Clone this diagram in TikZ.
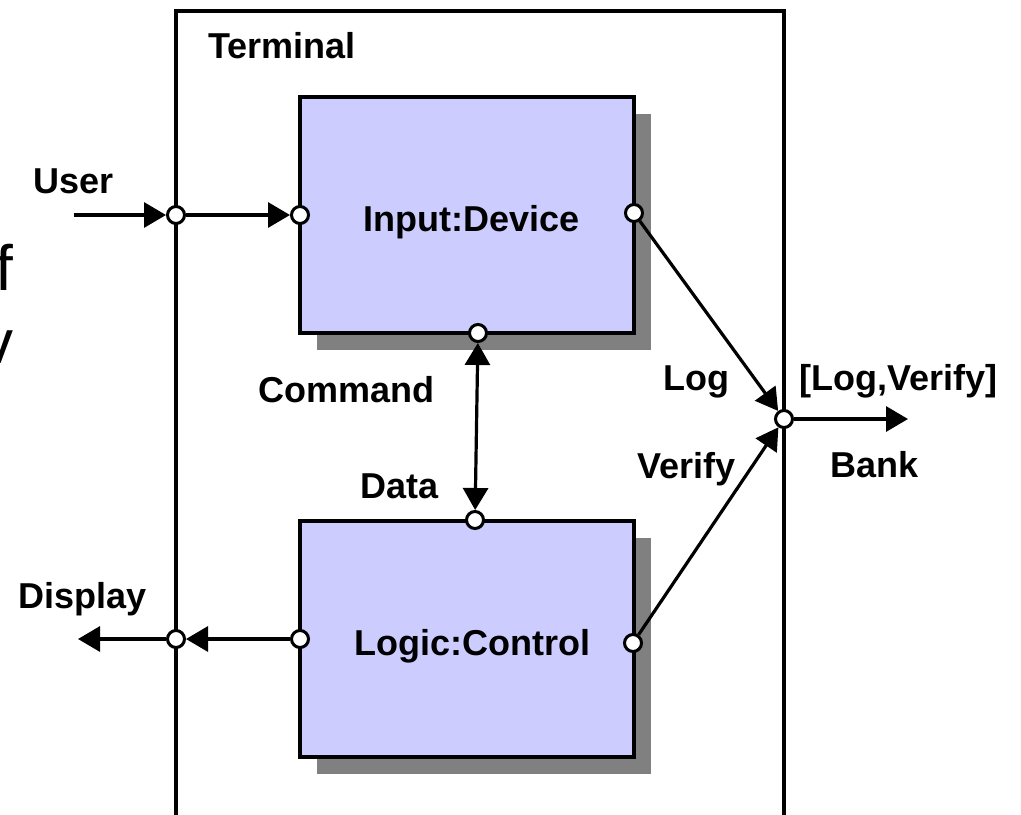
\documentclass[tikz,border=0pt]{standalone}
\usepackage{fontspec}
\setmainfont{Liberation Sans}
\usetikzlibrary{arrows.meta,shadows}

\tikzset{
  lbl/.style={anchor=base west, inner sep=0pt, font=\fontsize{18}{21.6}\selectfont\bfseries},
  part/.style={draw, line width=2pt, fill={rgb,255:red,204;green,204;blue,255},
    minimum width=167pt, minimum height=118pt, inner sep=0pt,
    drop shadow={shadow xshift=8.5pt, shadow yshift=-8.5pt, fill=black!50, opacity=1}},
  port/.style={draw, circle, fill=white, line width=1.5pt, minimum size=8.5pt, inner sep=0pt},
  flow/.style={line width=1.6pt, -{Triangle[length=11pt,width=12.5pt]}},
}

\begin{document}
\begin{tikzpicture}[x=0.5pt, y=-0.5pt]
  \useasboundingbox (0,0) rectangle (1021,814);

  % terminal frame
  \draw[line width=1.6pt] (176,830) -- (176,11) -- (784,11) -- (784,830);
  \node[lbl] at (208,58) {Terminal};

  % parts
  \node[part] (inp) at (467,215) {};
  \node[part] (lgc) at (466.5,639) {};
  \node[lbl] at (363,231) {Input:Device};
  \node[lbl] at (354,655) {Logic:Control};

  % ports
  \node[port] (tU) at (176,215) {};
  \node[port] (tD) at (176,639) {};
  \node[port] (tB) at (784,419) {};
  \node[port] (inW) at (300,215) {};
  \node[port] (inE) at (634,213) {};
  \node[port] (inS) at (478,333) {};
  \node[port] (lgW) at (300,639) {};
  \node[port] (lgE) at (633,643) {};
  \node[port] (lgN) at (475,520) {};

  \coordinate (user) at (74,215);
  \coordinate (disp) at (78,639);
  \coordinate (bank) at (908,419);

  % connectors
  \draw[flow] (user) -- (tU);
  \draw[flow] (tU) -- (inW);
  \draw[flow] (lgW) -- (tD);
  \draw[flow] (tD) -- (disp);
  \draw[flow, {Triangle[length=11pt,width=12.5pt]}-{Triangle[length=11pt,width=12.5pt]}] (inS) -- (lgN);
  \draw[flow] (inE) -- (tB);
  \draw[flow] (lgE) -- (tB);
  \draw[flow] (tB) -- (bank);

  % labels
  \node[lbl] at (33,193) {User};
  \node[lbl] at (18,608) {Display};
  \node[lbl] at (258,402) {Command};
  \node[lbl] at (360,498) {Data};
  \node[lbl] at (663,390) {Log};
  \node[lbl] at (637,478) {Verify};
  \node[lbl] at (799,390) {[Log,Verify]};
  \node[lbl] at (830,477) {Bank};

  % cut-off slide text
  \node[anchor=base east, inner sep=0pt, font=\fontsize{32}{38}\selectfont] at (14,290) {f};
  \node[anchor=base east, inner sep=0pt, font=\fontsize{31}{37}\selectfont] at (14,363) {v};
\end{tikzpicture}
\end{document}
